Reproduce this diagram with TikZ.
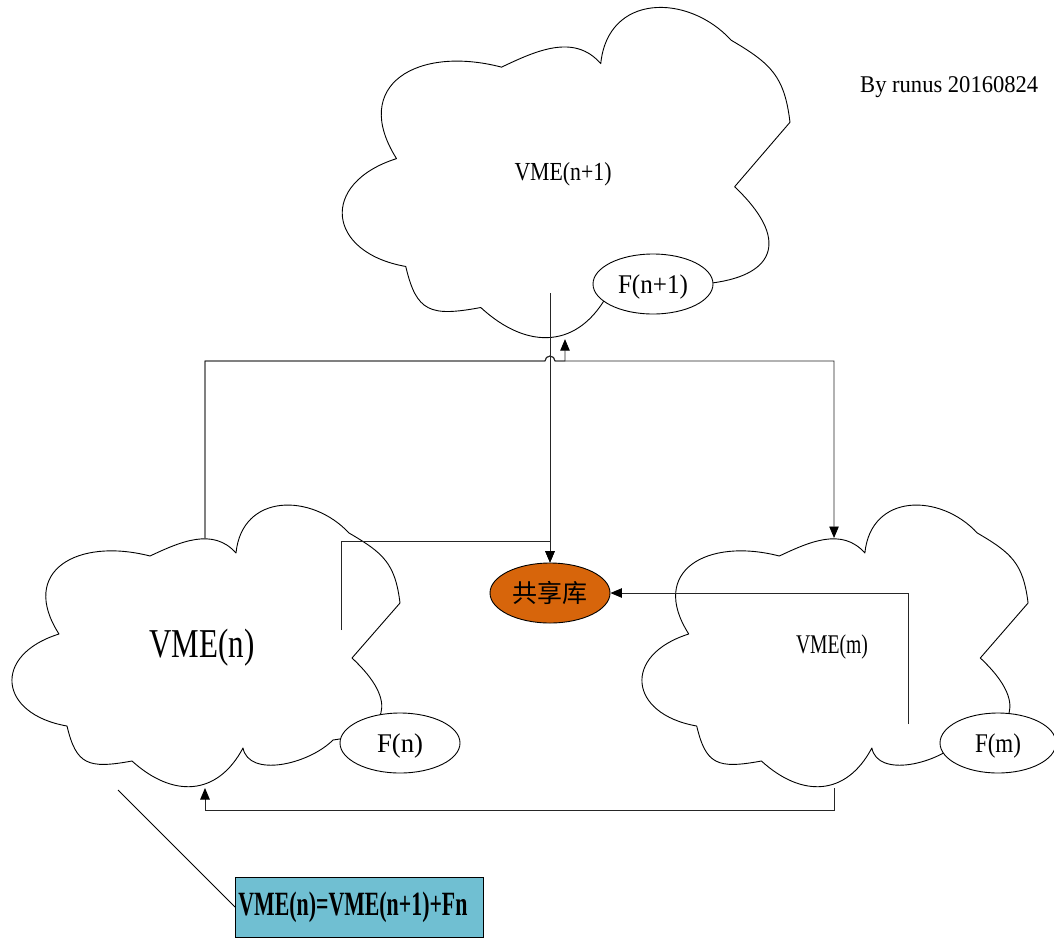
\documentclass[tikz,border=0pt]{standalone}
\usepackage{graphicx}
\usepackage{fontspec}
\setmainfont{Liberation Serif}
\newfontfamily\cjkfont{Noto Sans CJK SC}
\usetikzlibrary{arrows.meta,shapes.geometric,calc}
\newcommand{\fitw}[2]{\resizebox{#1}{\height}{#2}}
\definecolor{libfill}{HTML}{D7650B}
\definecolor{eqfill}{HTML}{70BFD2}
\tikzset{
  cloudline/.style={draw=black, line width=0.9pt, line join=round},
  % cloud outline in a 390 x 284 box, y pointing down
  cloud/.pic={
    \draw[cloudline]
      (140,53) .. controls (170,39) and (203,24) .. (226,50)
      .. controls (232,-10) and (301.6,-10.2) .. (339,30)
      .. controls (373.4,50) and (385.2,60.4) .. (390,100)
      -- (342,155)
      .. controls (389.5,199.2) and (378,229.85) .. (323,237)
      .. controls (298.5,261.5) and (239,275) .. (233,245)
      .. controls (207.2,293.4) and (162.7,294.9) .. (122,258)
      .. controls (77.9,266.1) and (66.2,261.8) .. (57,223)
      .. controls (-11.6,211.1) and (-18.2,152) .. (49,131)
      .. controls (8.5,68) and (67.25,34.25) .. (140,53)
      -- cycle;
    \coordinate (-top) at (195,35);
    \coordinate (-bot) at (195,285);
  }
}
\begin{document}
\begin{tikzpicture}[x=1pt,y=-1pt,
  conn/.style={draw=black!85, line width=0.9pt},
  tip/.style={-{Triangle[length=11.5pt,width=9.5pt,color=black,fill=black]}},
  lbl/.style={inner sep=0pt, anchor=base},
  fell/.style={ellipse, draw=black, line width=0.9pt, fill=white,
    minimum width=120pt, minimum height=60pt, inner sep=0pt,
    text height=18pt, text depth=0pt, font=\fontsize{27}{27}\selectfont}]
\path[fill=white, use as bounding box] (0,0) rectangle (1054,938);

% three clouds
\pic[xscale=1.1538, yscale=1.1725] (vn1) at (340,5) {cloud};
\pic (vn) at (10,503) {cloud};
\pic[xscale=0.995] (vm) at (640,503) {cloud};

% free ends of connectors inside the clouds
\coordinate (vn1-src) at (550,293);
\coordinate (vn-src) at (341,630);
\coordinate (vm-src) at (908,724);
\coordinate (vn-note) at (118,790);
\coordinate (hop) at (550,361);

% shared library
\node[ellipse, draw=black, line width=0.9pt, fill=libfill,
  minimum width=120pt, minimum height=60pt, inner sep=0pt,
  font=\cjkfont\fontsize{25}{25}\selectfont] (lib) at (550,593) {共享库};

% connectors
\draw[conn,tip] (vn-top) |- ([xshift=-5pt]hop) arc[start angle=180,end angle=0,radius=5pt] -| (vn1-bot);
\draw[conn,tip] (vn-top) |- ([xshift=-5pt]hop) arc[start angle=180,end angle=0,radius=5pt] -| (vm-top);
\draw[conn,tip] (vn1-src) -- (lib.north);
\draw[conn,tip] (vn-src) -- ++(0,-89) -| (lib.north);
\draw[conn,tip] (vm-src) |- (lib.east);
\draw[conn,tip] (vm-bot) -- ++(0,22) -| (vn-bot);

% function ellipses
\node[fell] (fn1) at (653,284) {\fitw{70pt}{F(n+1)}};
\node[fell] (fn) at (400,743) {\fitw{46pt}{F(n)}};
\node[fell, minimum width=116pt] (fm) at (998,743) {\fitw{46pt}{F(m)}};

% cloud labels
\node[lbl, font=\fontsize{26}{26}\selectfont] (vn1-label) at (563,180) {\fitw{97pt}{VME(n+1)}};
\node[lbl, font=\fontsize{41}{41}\selectfont] (vn-label) at (202,657) {\fitw{105pt}{VME(n)}};
\node[lbl, font=\fontsize{27}{27}\selectfont] (vm-label) at (832,653) {\fitw{72pt}{VME(m)}};

% signature
\node[lbl, anchor=base west, font=\fontsize{24}{24}\selectfont] (sig) at (860,92) {\fitw{178pt}{By runus 20160824}};

% formula box and its pointer
\node[draw=black, line width=0.9pt, fill=eqfill, minimum height=60pt,
  text width=242pt, inner xsep=3pt, inner ysep=0pt, align=left,
  text height=16pt, text depth=0pt, anchor=west,
  font=\fontsize{34}{34}\selectfont\bfseries] (eqn) at (235,907)
  {\fitw{229pt}{VME(n)=VME(n+1)+Fn}};
\draw[draw=black, line width=0.8pt] (vn-note) -- (eqn.west);
\end{tikzpicture}
\end{document}
